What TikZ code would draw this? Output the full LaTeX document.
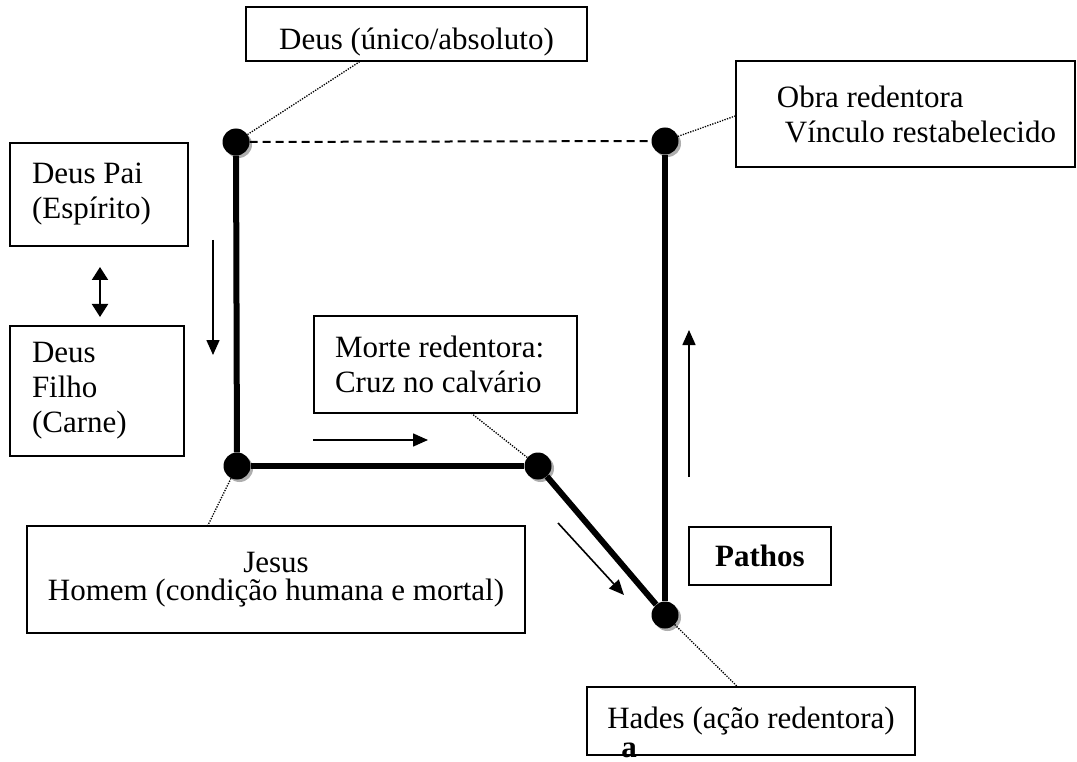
\documentclass[tikz,border=0pt]{standalone}
\usepackage{fontspec}
\setmainfont{Liberation Serif}
\usetikzlibrary{arrows.meta,calc,shadows,positioning}
\newcommand\plainspaces{\spaceskip=0pt\relax\xspaceskip=0pt\relax}

\begin{document}
\begin{tikzpicture}[x=1pt, y=-1pt,
	box/.style = {draw, line width=1.6pt, inner sep=0pt, font=\fontsize{31}{35}\selectfont},
	dot/.style = {circle, fill=black, minimum size=27pt, inner sep=0pt, drop shadow={shadow xshift=2.5pt, shadow yshift=-2.5pt, fill=black!45, opacity=0.7}},
	link/.style = {line width=6pt},
	leader/.style = {line width=1.3pt, dash pattern=on 1.3pt off 1.3pt},
	move/.style = {line width=1.6pt, -{Triangle[length=15pt, width=13pt]}}]
			\useasboundingbox (0,0) rectangle (1077,762);
			\node[box, minimum width=341pt, minimum height=54pt, text height=39pt, text depth=7pt] (deus) at (416.5,34) {Deus (único/absoluto)};
			\node[box, minimum width=339pt, minimum height=106pt, align=left] (obra) at (905.5,114) {\plainspaces\hspace*{22pt}Obra redentora\\\hspace*{30pt}Vínculo restabelecido};
			\node[box, minimum width=178pt, minimum height=103pt, text width=134pt, align=left] (pai) at (99,194.5) {\plainspaces Deus Pai\\(Espírito)};
			\node[box, minimum width=174pt, minimum height=130pt, text width=130pt, align=left] (filho) at (97,391) {Deus\\Filho\\(Carne)};
			\node[box, minimum width=263pt, minimum height=97pt, text width=221pt, align=left] (morte) at (445.5,364.5) {\plainspaces Morte redentora:\\Cruz no calvário};
			\node[box, minimum width=498pt, minimum height=107pt, align=center, font=\fontsize{31}{28}\selectfont] (jesus) at (276,579.5) {\plainspaces Jesus\\Homem (condição humana e mortal)};
			\node[box, minimum width=142pt, minimum height=58pt, font=\fontsize{31}{35}\selectfont\bfseries] (pathos) at (760,556) {Pathos};
			\node[box, minimum width=328pt, minimum height=68pt] (hades) at (751,721) {Hades (ação redentora)};
			\node[anchor=base, inner sep=0pt, font=\fontsize{31}{35}\selectfont\bfseries] (a) at (629,757) {a};
			
			\node[dot] (1) at (236,142) {};
			\node[dot] (2) at (237,466) {};
			\node[dot] (3) at (538,466) {};
			\node[dot] (4) at (665,615) {};
			\node[dot] (5) at (665,141) {};
			\draw[line width=2pt, dash pattern=on 8pt off 5pt] (1)--(5);
			\draw[link] (1)--(2);
			\draw[link] (2)--(3);
			\draw[link] (3)--(4);
			\draw[link] (4)--(5);
			
			\draw[leader] (1)--($(deus.south)+(-57,0)$);
			\draw[leader] (5)--($(obra.west)+(0,2)$);
			\draw[leader] (2)--($(jesus.north)+(-68,0)$);
			\draw[leader] (3)--($(morte.south)+(26.5,0)$);
			\draw[leader] (4)--($(hades.north)+(-14,0)$);
			
			\coordinate (pf1) at (100,267);
			\coordinate (pf2) at (100,317);
			\coordinate (d1) at (213,240);
			\coordinate (d2) at (213,355);
			\coordinate (r1) at (313,440);
			\coordinate (r2) at (428,440);
			\coordinate (s1) at (558,523);
			\coordinate (s2) at (624,595);
			\coordinate (u1) at (689,477);
			\coordinate (u2) at (689,330);
			\draw[line width=2.2pt, {Triangle[length=13pt, width=16pt]}-{Triangle[length=13pt, width=16pt]}] (pf1)--(pf2);
			\draw[move] (d1)--(d2);
			\draw[move] (r1)--(r2);
			\draw[move] (s1)--(s2);
			\draw[move] (u1)--(u2);
			
\end{tikzpicture}
\end{document}
